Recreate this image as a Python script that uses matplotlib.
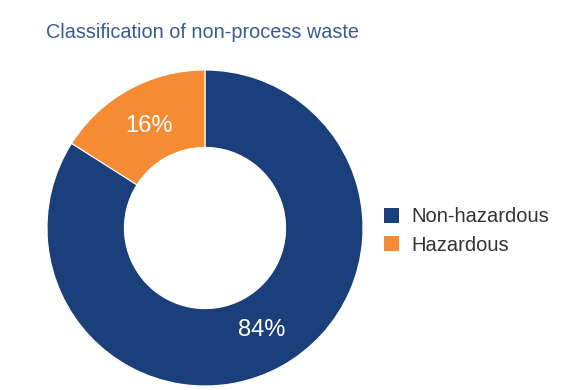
import matplotlib.pyplot as plt
from matplotlib.patches import Patch

labels = ['Non-hazardous', 'Hazardous']
values = [84, 16]
colors = ['#1b3f7a', '#f58c33']

plt.rcParams['font.family'] = ['Liberation Sans', 'DejaVu Sans']

fig = plt.figure(figsize=(5.8, 3.9), dpi=100)
ax = fig.add_axes([47/580, 4/390, 316/580, 316/390])

wedges, texts, autotexts = ax.pie(values, colors=colors, startangle=90, counterclock=False,
                                  autopct='%d%%', pctdistance=0.74, radius=1,
                                  wedgeprops=dict(width=0.49, edgecolor='white', linewidth=0.8),
                                  textprops=dict(color='white', fontsize=17))
ax.set_xlim(-1, 1)
ax.set_ylim(-1, 1)
ax.set_aspect('equal')

fig.text(46/580, 1 - 33/390, 'Classification of non-process waste', fontsize=14.3,
         color='#3b5a94', va='center', ha='left')

handles = [Patch(facecolor=c, edgecolor='none') for c in colors]
fig.legend(handles, labels, loc='center left', bbox_to_anchor=(366/580, 1 - 231/390),
           frameon=False, fontsize=14.5, handlelength=0.75, handleheight=0.75,
           handletextpad=0.6, labelspacing=0.45, labelcolor='#333333')

fig.savefig('out.png', dpi=100)
